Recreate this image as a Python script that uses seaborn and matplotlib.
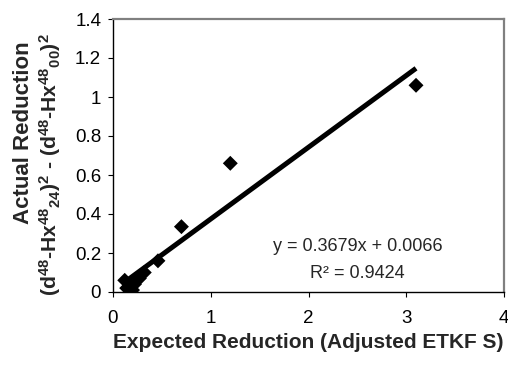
import numpy as np
import pandas as pd
import matplotlib
matplotlib.use("Agg")
import matplotlib.pyplot as plt
import seaborn as sns

# Data
expected = [0.12, 0.14, 0.17, 0.20, 0.22, 0.27, 0.32, 0.46, 0.70, 1.20, 3.10]
actual = [0.06, 0.02, 0.03, 0.01, 0.04, 0.07, 0.10, 0.16, 0.335, 0.66, 1.06]
slope = 0.3679
intercept = 0.0066
r_squared = 0.9424
x_ticks = [0, 1, 2, 3, 4]
y_ticks = [0, 0.2, 0.4, 0.6, 0.8, 1.0, 1.2, 1.4]
y_tick_labels = ["0", "0.2", "0.4", "0.6", "0.8", "1", "1.2", "1.4"]

sns.set_style("white")
plt.rcParams["font.family"] = ["Liberation Sans", "DejaVu Sans"]
plt.rcParams["mathtext.fontset"] = "custom"
plt.rcParams["mathtext.rm"] = "Liberation Sans:bold"
plt.rcParams["mathtext.default"] = "rm"

W, H = 508, 369
fig = plt.figure(figsize=(W / 100, H / 100), dpi=100)
ax = fig.add_axes([113 / W, 1 - 292 / H, (504 - 113) / W, (292 - 19) / H])

df = pd.DataFrame({"expected": expected, "actual": actual})
trend = pd.DataFrame({"x": [min(expected), max(expected)]})
trend["y"] = slope * trend["x"] + intercept

sns.lineplot(data=trend, x="x", y="y", ax=ax, color="black", linewidth=3.6,
             solid_capstyle="butt", zorder=2)
sns.scatterplot(data=df, x="expected", y="actual", ax=ax, marker="D", s=58,
                color="black", edgecolor="none", zorder=3)

ax.set_xlim(0, 4)
ax.set_ylim(0, 1.4)
ax.set_xticks(x_ticks)
ax.set_xticklabels([str(t) for t in x_ticks])
ax.set_yticks(y_ticks)
ax.set_yticklabels(y_tick_labels)
ax.tick_params(axis="both", direction="out", length=3.5, width=0.8, color="black",
               labelsize=13.5, labelcolor="black")
ax.tick_params(axis="x", pad=9.5, bottom=True)
ax.tick_params(axis="y", pad=5, left=True)

for side in ["left", "bottom"]:
    ax.spines[side].set_color("black")
    ax.spines[side].set_linewidth(1.0)
for side in ["top", "right"]:
    ax.spines[side].set_color("#808080")
    ax.spines[side].set_linewidth(1.6)

ax.set_xlabel("")
ax.set_ylabel("")

fig.text(308 / W, 1 - 343 / H, "Expected Reduction (Adjusted ETKF S)",
         ha="center", va="center", fontsize=15, fontweight="bold")
fig.text(24 / W, 1 - 133 / H, "Actual Reduction", rotation=90,
         ha="center", va="center", fontsize=16, fontweight="bold")
fig.text(50 / W, 1 - 165 / H,
         r"(d$^{48}$-Hx$^{48}$$_{24}$)$^{2}$ - (d$^{48}$-Hx$^{48}$$_{00}$)$^{2}$",
         rotation=90, ha="center", va="center", fontsize=15.2, fontweight="bold")

ax.text(2.5, 0.235, f"y = {slope:.4f}x + {intercept:.4f}", ha="center", va="center",
        fontsize=13)
ax.text(2.5, 0.097, f"R² = {r_squared:.4f}", ha="center", va="center", fontsize=13)

fig.savefig("out.png", dpi=100)
